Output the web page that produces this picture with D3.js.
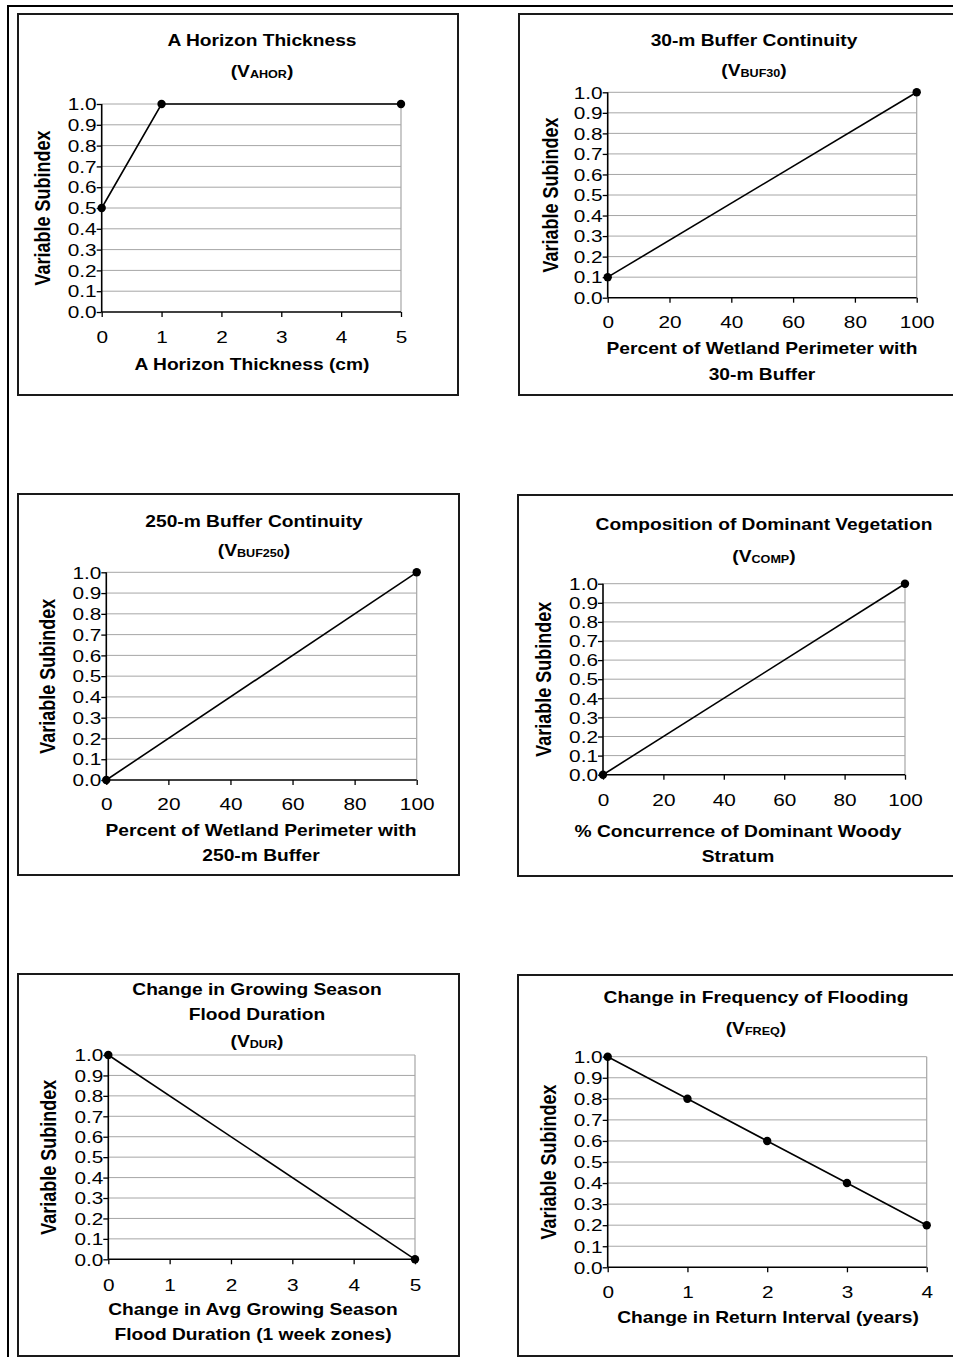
<!DOCTYPE html>
<html>
<head>
<meta charset="utf-8">
<script src="https://cdn.jsdelivr.net/npm/d3@7"></script>
<style>
  html, body { margin: 0; padding: 0; background: #fff; }
  svg { display: block; font-family: "Liberation Sans", Arial, Helvetica, sans-serif; }
</style>
</head>
<body>
<svg id="chart" width="953" height="1357"></svg>
<script>
// ---- Subindex curves (x = variable value, y = subindex) ----
const ahorX = [0, 1, 5];
const ahorY = [0.5, 1.0, 1.0];
const buf30X = [0, 100];
const buf30Y = [0.1, 1.0];
const buf250X = [0, 100];
const buf250Y = [0.0, 1.0];
const compX = [0, 100];
const compY = [0.0, 1.0];
const durX = [0, 5];
const durY = [1.0, 0.0];
const freqX = [0, 1, 2, 3, 4];
const freqY = [1.0, 0.8, 0.6, 0.4, 0.2];

// ---- Tick values ----
const yTicks = [0.0, 0.1, 0.2, 0.3, 0.4, 0.5, 0.6, 0.7, 0.8, 0.9, 1.0];
const ahorTicks = [0, 1, 2, 3, 4, 5];
const pctTicks = [0, 20, 40, 60, 80, 100];
const durTicks = [0, 1, 2, 3, 4, 5];
const freqTicks = [0, 1, 2, 3, 4];

// ---- Text ----
const yAxisTitle = "Variable Subindex";
const ahorTitle = ["A Horizon Thickness"];
const ahorSub = "AHOR";
const ahorXTitle = ["A Horizon Thickness (cm)"];
const buf30Title = ["30-m Buffer Continuity"];
const buf30Sub = "BUF30";
const buf30XTitle = ["Percent of Wetland Perimeter with", "30-m Buffer"];
const buf250Title = ["250-m Buffer Continuity"];
const buf250Sub = "BUF250";
const buf250XTitle = ["Percent of Wetland Perimeter with", "250-m Buffer"];
const compTitle = ["Composition of Dominant Vegetation"];
const compSub = "COMP";
const compXTitle = ["% Concurrence of Dominant Woody", "Stratum"];
const durTitle = ["Change in Growing Season", "Flood Duration"];
const durSub = "DUR";
const durXTitle = ["Change in Avg Growing Season", "Flood Duration (1 week zones)"];
const freqTitle = ["Change in Frequency of Flooding"];
const freqSub = "FREQ";
const freqXTitle = ["Change in Return Interval (years)"];

// ---- Panel layout ----
const panels = [
  { xs: ahorX, ys: ahorY, xTicks: ahorTicks, title: ahorTitle, sub: ahorSub, xTitle: ahorXTitle,
    box: [18, 14, 458, 395], plot: [101.7, 401, 104, 312],
    titleX: 262, titleY: [46, 77], xLabelY: 343, xTitleX: 252, xTitleY: [370], yTitleX: 42 },
  { xs: buf30X, ys: buf30Y, xTicks: pctTicks, title: buf30Title, sub: buf30Sub, xTitle: buf30XTitle,
    box: [519, 14, 962, 395], plot: [607.7, 916.7, 92.3, 297.7],
    titleX: 754, titleY: [46, 76], xLabelY: 328, xTitleX: 762, xTitleY: [354, 380], yTitleX: 550 },
  { xs: buf250X, ys: buf250Y, xTicks: pctTicks, title: buf250Title, sub: buf250Sub, xTitle: buf250XTitle,
    box: [18, 494, 459, 875], plot: [106.3, 416.7, 572.3, 780],
    titleX: 254, titleY: [527, 556], xLabelY: 810, xTitleX: 261, xTitleY: [836, 861], yTitleX: 47 },
  { xs: compX, ys: compY, xTicks: pctTicks, title: compTitle, sub: compSub, xTitle: compXTitle,
    box: [518, 495, 962, 876], plot: [603, 905, 583.7, 774.7],
    titleX: 764, titleY: [530, 562], xLabelY: 806, xTitleX: 738, xTitleY: [837, 862], yTitleX: 543 },
  { xs: durX, ys: durY, xTicks: durTicks, title: durTitle, sub: durSub, xTitle: durXTitle,
    box: [18, 974, 459, 1356], plot: [108.3, 415, 1055, 1259.3],
    titleX: 257, titleY: [995, 1020, 1047], xLabelY: 1291, xTitleX: 253, xTitleY: [1315, 1340], yTitleX: 48 },
  { xs: freqX, ys: freqY, xTicks: freqTicks, title: freqTitle, sub: freqSub, xTitle: freqXTitle,
    box: [518, 975, 962, 1356], plot: [607.7, 926.7, 1056.7, 1267.3],
    titleX: 756, titleY: [1003, 1034], xLabelY: 1298, xTitleX: 768, xTitleY: [1323], yTitleX: 548 }
];

// Horizontal stretch applied to the lettering
const SX = 1.2, TICK_SX = 1.3;
const TITLE_SIZE = 16, AXIS_TITLE_SIZE = 16, TICK_SIZE = 16, SUB_SIZE = 10.5, YTITLE_SIZE = 18;

const svg = d3.select("#chart");

// Page frame
svg.append("line").attr("x1", 7).attr("x2", 953).attr("y1", 6).attr("y2", 6)
  .attr("stroke", "#000").attr("stroke-width", 2);
svg.append("line").attr("x1", 8).attr("x2", 8).attr("y1", 5).attr("y2", 1357)
  .attr("stroke", "#000").attr("stroke-width", 2);

function label(g, x, y, str, size, weight, anchor) {
  return g.append("text")
    .attr("transform", `translate(${x},${y}) scale(${SX},1)`)
    .attr("text-anchor", anchor)
    .attr("font-size", size)
    .attr("font-weight", weight)
    .attr("fill", "#000")
    .text(str);
}

panels.forEach(p => {
  const g = svg.append("g");
  const [bx0, by0, bx1, by1] = p.box;
  g.append("rect").attr("x", bx0).attr("y", by0)
    .attr("width", bx1 - bx0).attr("height", by1 - by0)
    .attr("fill", "#fff").attr("stroke", "#1a1a1a").attr("stroke-width", 2);

  const [px0, px1, py1, py0] = p.plot;
  const x = d3.scaleLinear().domain(d3.extent(p.xTicks)).range([px0, px1]);
  const y = d3.scaleLinear().domain([0, 1]).range([py0, py1]);

  // Gridlines
  g.append("g").selectAll("line").data(yTicks.filter(v => v > 0)).join("line")
    .attr("x1", px0).attr("x2", px1)
    .attr("y1", d => y(d)).attr("y2", d => y(d))
    .attr("stroke", "#a6a6a6").attr("stroke-width", 1);
  // Plot-area right edge
  g.append("line").attr("x1", px1).attr("x2", px1).attr("y1", py1).attr("y2", py0)
    .attr("stroke", "#a6a6a6").attr("stroke-width", 1.2);

  // Axes
  const yAxis = g.append("g").attr("transform", `translate(${px0},0)`)
    .call(d3.axisLeft(y).tickValues(yTicks).tickSize(5).tickFormat(d3.format(".1f")));
  const xAxis = g.append("g").attr("transform", `translate(0,${py0})`)
    .call(d3.axisBottom(x).tickValues(p.xTicks).tickSize(5).tickFormat(d3.format("d")));
  [yAxis, xAxis].forEach(a => {
    a.attr("font-size", TICK_SIZE).attr("font-family", null);
    a.select(".domain").attr("stroke", "#000").attr("stroke-width", 1.6);
    a.selectAll(".tick line").attr("stroke", "#000").attr("stroke-width", 1.3);
    a.selectAll(".tick text").attr("font-size", TICK_SIZE).attr("fill", "#000");
  });
  yAxis.select(".domain").attr("d", `M0,${py0}V${py1}`);
  xAxis.select(".domain").attr("d", `M${px0},0H${px1}`);
  yAxis.selectAll(".tick text")
    .attr("x", null).attr("dy", null)
    .attr("transform", `translate(-5,${TICK_SIZE * 0.36}) scale(${TICK_SX},1)`);
  xAxis.selectAll(".tick text")
    .attr("y", null).attr("dy", null)
    .attr("transform", `translate(0,${p.xLabelY - py0}) scale(${TICK_SX},1)`);

  // Curve and markers
  const pts = p.xs.map((v, i) => [v, p.ys[i]]);
  g.append("path").datum(pts)
    .attr("d", d3.line().x(d => x(d[0])).y(d => y(d[1])))
    .attr("fill", "none").attr("stroke", "#000").attr("stroke-width", 1.6);
  g.append("g").selectAll("circle").data(pts).join("circle")
    .attr("cx", d => x(d[0])).attr("cy", d => y(d[1])).attr("r", 4.2).attr("fill", "#000");

  // Chart title lines, last line carries the subscripted variable name
  p.title.forEach((t, i) => label(g, p.titleX, p.titleY[i], t, TITLE_SIZE, "bold", "middle"));
  const vt = g.append("text")
    .attr("transform", `translate(${p.titleX},${p.titleY[p.title.length]}) scale(${SX},1)`)
    .attr("text-anchor", "middle").attr("font-size", TITLE_SIZE).attr("font-weight", "bold");
  vt.append("tspan").text("(V");
  vt.append("tspan").attr("font-size", SUB_SIZE).attr("dy", 1).text(p.sub);
  vt.append("tspan").attr("dy", -1).text(")");

  // Axis titles
  p.xTitle.forEach((t, i) => label(g, p.xTitleX, p.xTitleY[i], t, AXIS_TITLE_SIZE, "bold", "middle"));
  g.append("text")
    .attr("transform", `translate(${p.yTitleX},${(py0 + py1) / 2}) scale(${SX},1) rotate(-90)`)
    .attr("text-anchor", "middle").attr("dy", "0.35em")
    .attr("font-size", YTITLE_SIZE).attr("font-weight", "bold")
    .text(yAxisTitle);
});
</script>
</body>
</html>
